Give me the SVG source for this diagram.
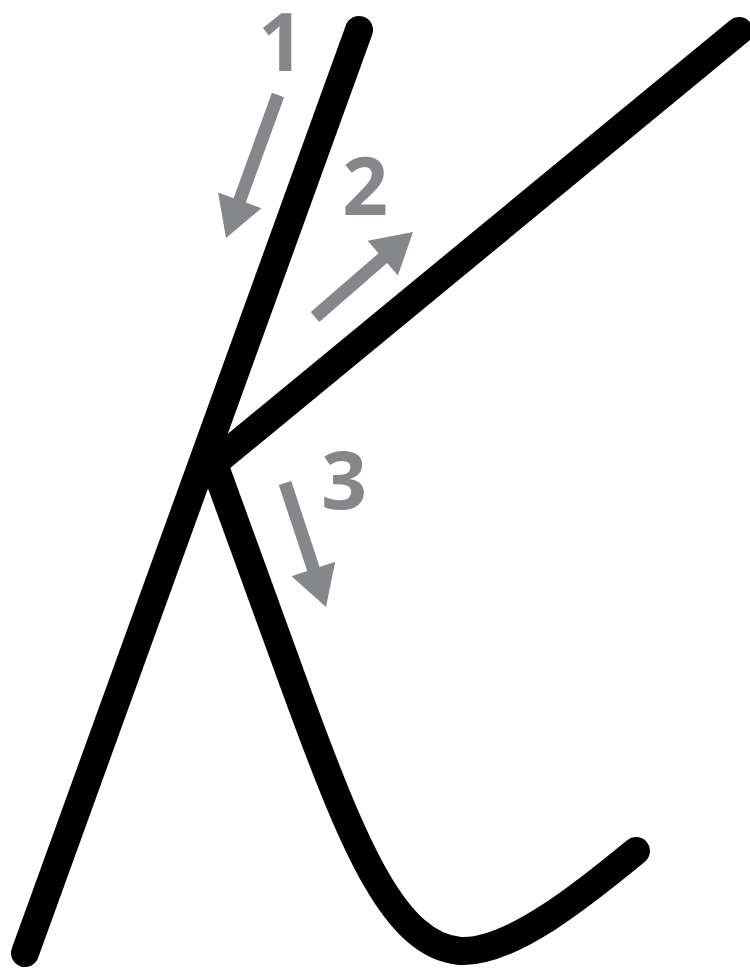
<svg xmlns="http://www.w3.org/2000/svg" width="750" height="968" viewBox="0 0 750 968">
<style>
.s{fill:none;stroke:#000;stroke-width:28;stroke-linecap:round;stroke-linejoin:round}
.a{fill:#86878a}
.t{fill:#86878a;font-family:"Open Sans","Liberation Sans",sans-serif;font-weight:bold;font-size:80px;text-anchor:middle}
</style>
<rect width="750" height="968" fill="#fff"/>
<g id="strokes">
<path id="stroke1" class="s" d="M359 30 L25 953"/>
<path id="stroke2" class="s" d="M739 31 L218 460"/>
<path id="stroke3" class="s" d="M214 464 L298 695 C355 850,395 945,460 951 C510 954,585 893,636 851"/>
</g>
<g id="arrows">
<g id="arrow1"><polygon class="a" points="271.9,92.8 284.1,97.2 245.8,202.6 261.3,208.3 226,238 218.1,192.5 233.6,198.2"/><text class="t" x="281" y="71">1</text></g>
<g id="arrow2"><polygon class="a" points="310.7,312.1 378.5,253.3 367.7,240.8 413,232 397.9,275.6 387.1,263.1 319.3,321.9"/><text class="t" x="365" y="215">2</text></g>
<g id="arrow3"><polygon class="a" points="278.8,485 291.2,481 319.6,567 335.2,561.8 326,607 291.6,576.2 307.2,571"/><text class="t" x="344" y="509">3</text></g>
</g>
</svg>
